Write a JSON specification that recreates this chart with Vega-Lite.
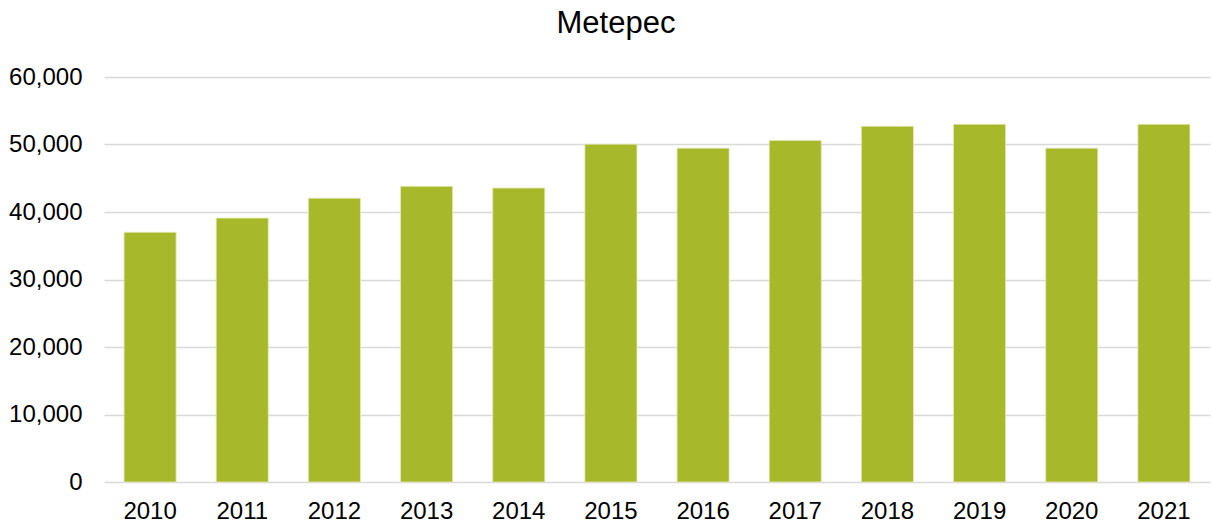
{
  "$schema": "https://vega.github.io/schema/vega-lite/v6.json",
  "autosize": {"type": "none"},
  "width": 1106,
  "height": 405,
  "padding": {"left": 104, "top": 77, "right": 1, "bottom": 43},
  "background": "white",
  "title": {
    "text": "Metepec",
    "fontSize": 31,
    "font": "Liberation Sans",
    "fontWeight": "normal",
    "color": "#000000",
    "anchor": "middle",
    "dx": -41,
    "offset": 25
  },
  "data": {
    "values": [
      {"year": "2010", "value": 37000},
      {"year": "2011", "value": 39100},
      {"year": "2012", "value": 42050},
      {"year": "2013", "value": 43800},
      {"year": "2014", "value": 43550},
      {"year": "2015", "value": 50050},
      {"year": "2016", "value": 49450},
      {"year": "2017", "value": 50600},
      {"year": "2018", "value": 52700},
      {"year": "2019", "value": 53000},
      {"year": "2020", "value": 49450},
      {"year": "2021", "value": 53000}
    ]
  },
  "mark": {"type": "bar", "color": "#A7B82A", "stroke": "#E4EBB8", "strokeWidth": 0.8},
  "encoding": {
    "x": {
      "field": "year",
      "type": "ordinal",
      "scale": {"paddingInner": 0.435, "paddingOuter": 0.2175},
      "axis": {
        "title": null,
        "labelAngle": 0,
        "labelFont": "Liberation Sans",
        "labelFontSize": 24,
        "labelColor": "#000000",
        "labelPadding": 17,
        "domain": false,
        "ticks": false
      }
    },
    "y": {
      "field": "value",
      "type": "quantitative",
      "scale": {"domain": [0, 60000]},
      "axis": {
        "title": null,
        "values": [0, 10000, 20000, 30000, 40000, 50000, 60000],
        "format": ",d",
        "labelFont": "Liberation Sans",
        "labelFontSize": 24,
        "labelColor": "#000000",
        "labelPadding": 22,
        "domain": false,
        "ticks": false,
        "grid": true,
        "gridColor": "#D9D9D9",
        "gridWidth": 1.5
      }
    }
  },
  "config": {"view": {"stroke": null}}
}
